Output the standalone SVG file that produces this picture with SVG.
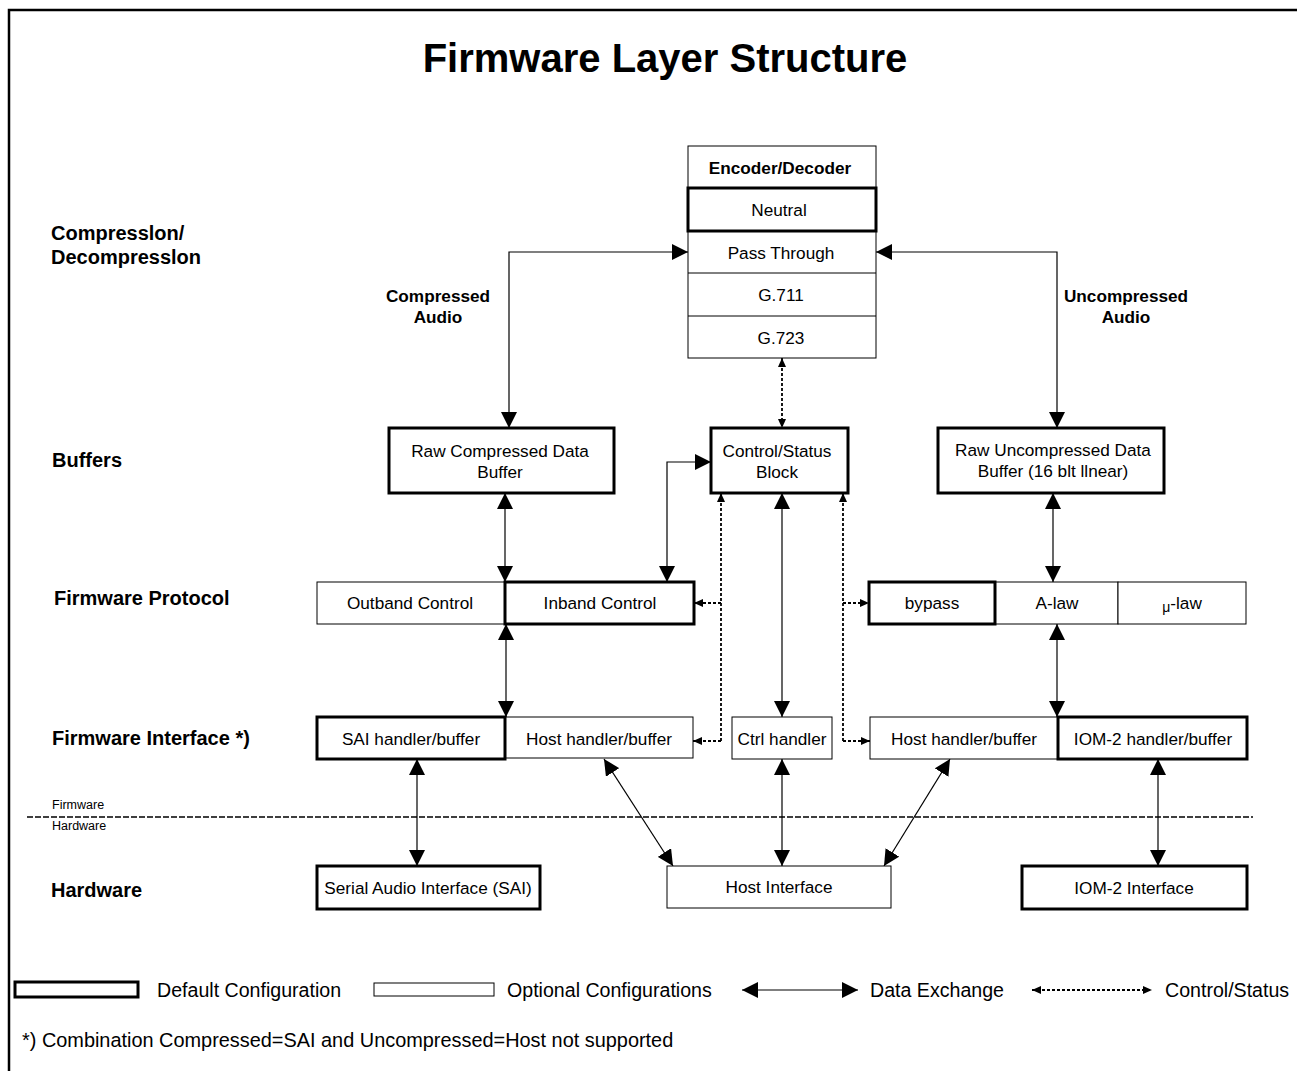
<svg xmlns="http://www.w3.org/2000/svg" width="1297" height="1071" viewBox="0 0 1297 1071">
<style>
text{font-family:"Liberation Sans",Arial,sans-serif;fill:#000}
.t{font-size:17.2px;text-anchor:middle}
.b{font-weight:bold}
.lab{font-size:20px;font-weight:bold}
.thin{fill:#fff;stroke:#000;stroke-width:1}
.thick{fill:#fff;stroke:#000;stroke-width:3}
.data{fill:none;stroke:#000;stroke-width:1.2;marker-start:url(#ah);marker-end:url(#ah)}
.ctl{fill:none;stroke:#000;stroke-width:1.8;stroke-dasharray:3 2}
</style>
<defs>
<marker id="ah" markerUnits="userSpaceOnUse" markerWidth="16" markerHeight="16" viewBox="0 0 16 16" refX="16" refY="8" orient="auto-start-reverse"><path d="M0,0 L16,8 L0,16 z" fill="#000"/></marker>
<marker id="ch" markerUnits="userSpaceOnUse" markerWidth="9" markerHeight="8" viewBox="0 0 9 8" refX="9" refY="4" orient="auto-start-reverse"><path d="M0,0 L9,4 L0,8 z" fill="#000"/></marker>
</defs>
<rect width="1297" height="1071" fill="#fff"/>
<path d="M9,1071 L9,10 L1297,10" fill="none" stroke="#000" stroke-width="2.5"/>
<text x="665" y="72" font-size="40" font-weight="bold" text-anchor="middle">Firmware Layer Structure</text>

<g id="labels">
<text class="lab" x="51" y="240">Compresslon/</text>
<text class="lab" x="51" y="264">Decompresslon</text>
<text class="lab" x="52" y="467">Buffers</text>
<text class="lab" x="54" y="605">Firmware Protocol</text>
<text class="lab" x="52" y="745">Firmware Interface *)</text>
<text class="lab" x="51" y="897">Hardware</text>
<text class="t b" x="438" y="302">Compressed</text>
<text class="t b" x="438" y="323">Audio</text>
<text class="t b" x="1126" y="302">Uncompressed</text>
<text class="t b" x="1126" y="323">Audio</text>
</g>

<g id="connectors">
<path class="data" d="M509,428 L509,252 L688,252"/>
<path class="data" d="M1057,428 L1057,252 L876,252"/>
<path class="ctl" d="M782,358 L782,428" marker-start="url(#ch)" marker-end="url(#ch)"/>
<path class="data" d="M505,493 L505,582"/>
<path class="data" d="M667,582 L667,462 L711,462"/>
<path class="data" d="M506,624 L506,717"/>
<path class="ctl" d="M721,741 L721,493" marker-end="url(#ch)"/>
<path class="ctl" d="M721,603 L694,603" marker-end="url(#ch)"/>
<path class="ctl" d="M721,741 L693,741" marker-end="url(#ch)"/>
<path class="ctl" d="M843,741 L843,493" marker-end="url(#ch)"/>
<path class="ctl" d="M843,603 L869,603" marker-end="url(#ch)"/>
<path class="ctl" d="M843,741 L870,741" marker-end="url(#ch)"/>
<path class="data" d="M782,493 L782,717"/>
<path class="data" d="M1053,493 L1053,582"/>
<path class="data" d="M1057,624 L1057,717"/>
<path class="data" d="M417,759 L417,866"/>
<path class="data" d="M604,759 L673,866"/>
<path class="data" d="M782,759 L782,866"/>
<path class="data" d="M950,759 L884,866"/>
<path class="data" d="M1158,759 L1158,866"/>
<path d="M27,817 L1253,817" fill="none" stroke="#000" stroke-width="1.3" stroke-dasharray="6 2"/>
</g>

<g id="encoder">
<rect class="thin" x="688" y="146" width="188" height="212"/>
<line x1="688" y1="273" x2="876" y2="273" stroke="#000" stroke-width="1"/>
<line x1="688" y1="316" x2="876" y2="316" stroke="#000" stroke-width="1"/>
<text class="t b" x="780" y="174">Encoder/Decoder</text>
</g>
<g id="neutral"><rect class="thick" x="688" y="188" width="188" height="43"/><text class="t" x="779" y="216">Neutral</text></g>
<g id="passthrough"><text class="t" x="781" y="259">Pass Through</text></g>
<g id="g711"><text class="t" x="781" y="301">G.711</text></g>
<g id="g723"><text class="t" x="781" y="344">G.723</text></g>

<g id="rawcomp"><rect class="thick" x="389" y="428" width="225" height="65"/><text class="t" x="500" y="457">Raw Compressed Data</text><text class="t" x="500" y="478">Buffer</text></g>
<g id="ctrlstatus"><rect class="thick" x="711" y="428" width="137" height="65"/><text class="t" x="777" y="457">Control/Status</text><text class="t" x="777" y="478">Block</text></g>
<g id="rawuncomp"><rect class="thick" x="938" y="428" width="226" height="65"/><text class="t" x="1053" y="456">Raw Uncompressed Data</text><text class="t" x="1053" y="477">Buffer (16 blt llnear)</text></g>

<g id="outband"><rect class="thin" x="317" y="582" width="188" height="42"/><text class="t" x="410" y="609">Outband Control</text></g>
<g id="inband"><rect class="thick" x="505" y="582" width="189" height="42"/><text class="t" x="600" y="609">Inband Control</text></g>
<g id="alaw"><rect class="thin" x="995" y="582" width="123" height="42"/><text class="t" x="1057" y="609">A-law</text></g>
<g id="mulaw"><rect class="thin" x="1118" y="582" width="128" height="42"/><text class="t" x="1182" y="609"><tspan font-size="14" dy="3">μ</tspan><tspan dy="-3">-law</tspan></text></g>
<g id="bypass"><rect class="thick" x="869" y="582" width="126" height="42"/><text class="t" x="932" y="609">bypass</text></g>

<g id="hosthandler1"><rect class="thin" x="505" y="717" width="188" height="41"/><text class="t" x="599" y="745">Host handler/buffer</text></g>
<g id="saihandler"><rect class="thick" x="317" y="717" width="188" height="42"/><text class="t" x="411" y="745">SAI handler/buffer</text></g>
<g id="ctrlhandler"><rect class="thin" x="732" y="717" width="100" height="42"/><text class="t" x="782" y="745">Ctrl handler</text></g>
<g id="hosthandler2"><rect class="thin" x="870" y="717" width="188" height="42"/><text class="t" x="964" y="745">Host handler/buffer</text></g>
<g id="iomhandler"><rect class="thick" x="1058" y="717" width="189" height="42"/><text class="t" x="1153" y="745">IOM-2 handler/buffer</text></g>

<text x="52" y="809" font-size="12.5">Firmware</text>
<text x="52" y="830" font-size="12.5">Hardware</text>

<g id="sai"><rect class="thick" x="317" y="866" width="223" height="43"/><text class="t" x="428" y="894">Serial Audio Interface (SAI)</text></g>
<g id="hostif"><rect class="thin" x="667" y="866" width="224" height="42"/><text class="t" x="779" y="893">Host Interface</text></g>
<g id="iomif"><rect class="thick" x="1022" y="866" width="225" height="43"/><text class="t" x="1134" y="894">IOM-2 Interface</text></g>

<g id="legend">
<rect class="thick" x="15" y="982" width="123" height="15"/>
<text x="157" y="997" font-size="19.6">Default Configuration</text>
<rect class="thin" x="374" y="983" width="120" height="13"/>
<text x="507" y="997" font-size="19.6">Optional Configurations</text>
<path class="data" d="M742,990 L858,990"/>
<text x="870" y="997" font-size="19.6">Data Exchange</text>
<path class="ctl" d="M1032,990 L1152,990" stroke-width="1.3" marker-start="url(#ch)" marker-end="url(#ch)"/>
<text x="1165" y="997" font-size="19.6">Control/Status</text>
<text x="22" y="1047" font-size="19.9">*) Combination Compressed=SAI and Uncompressed=Host not supported</text>
</g>
</svg>
